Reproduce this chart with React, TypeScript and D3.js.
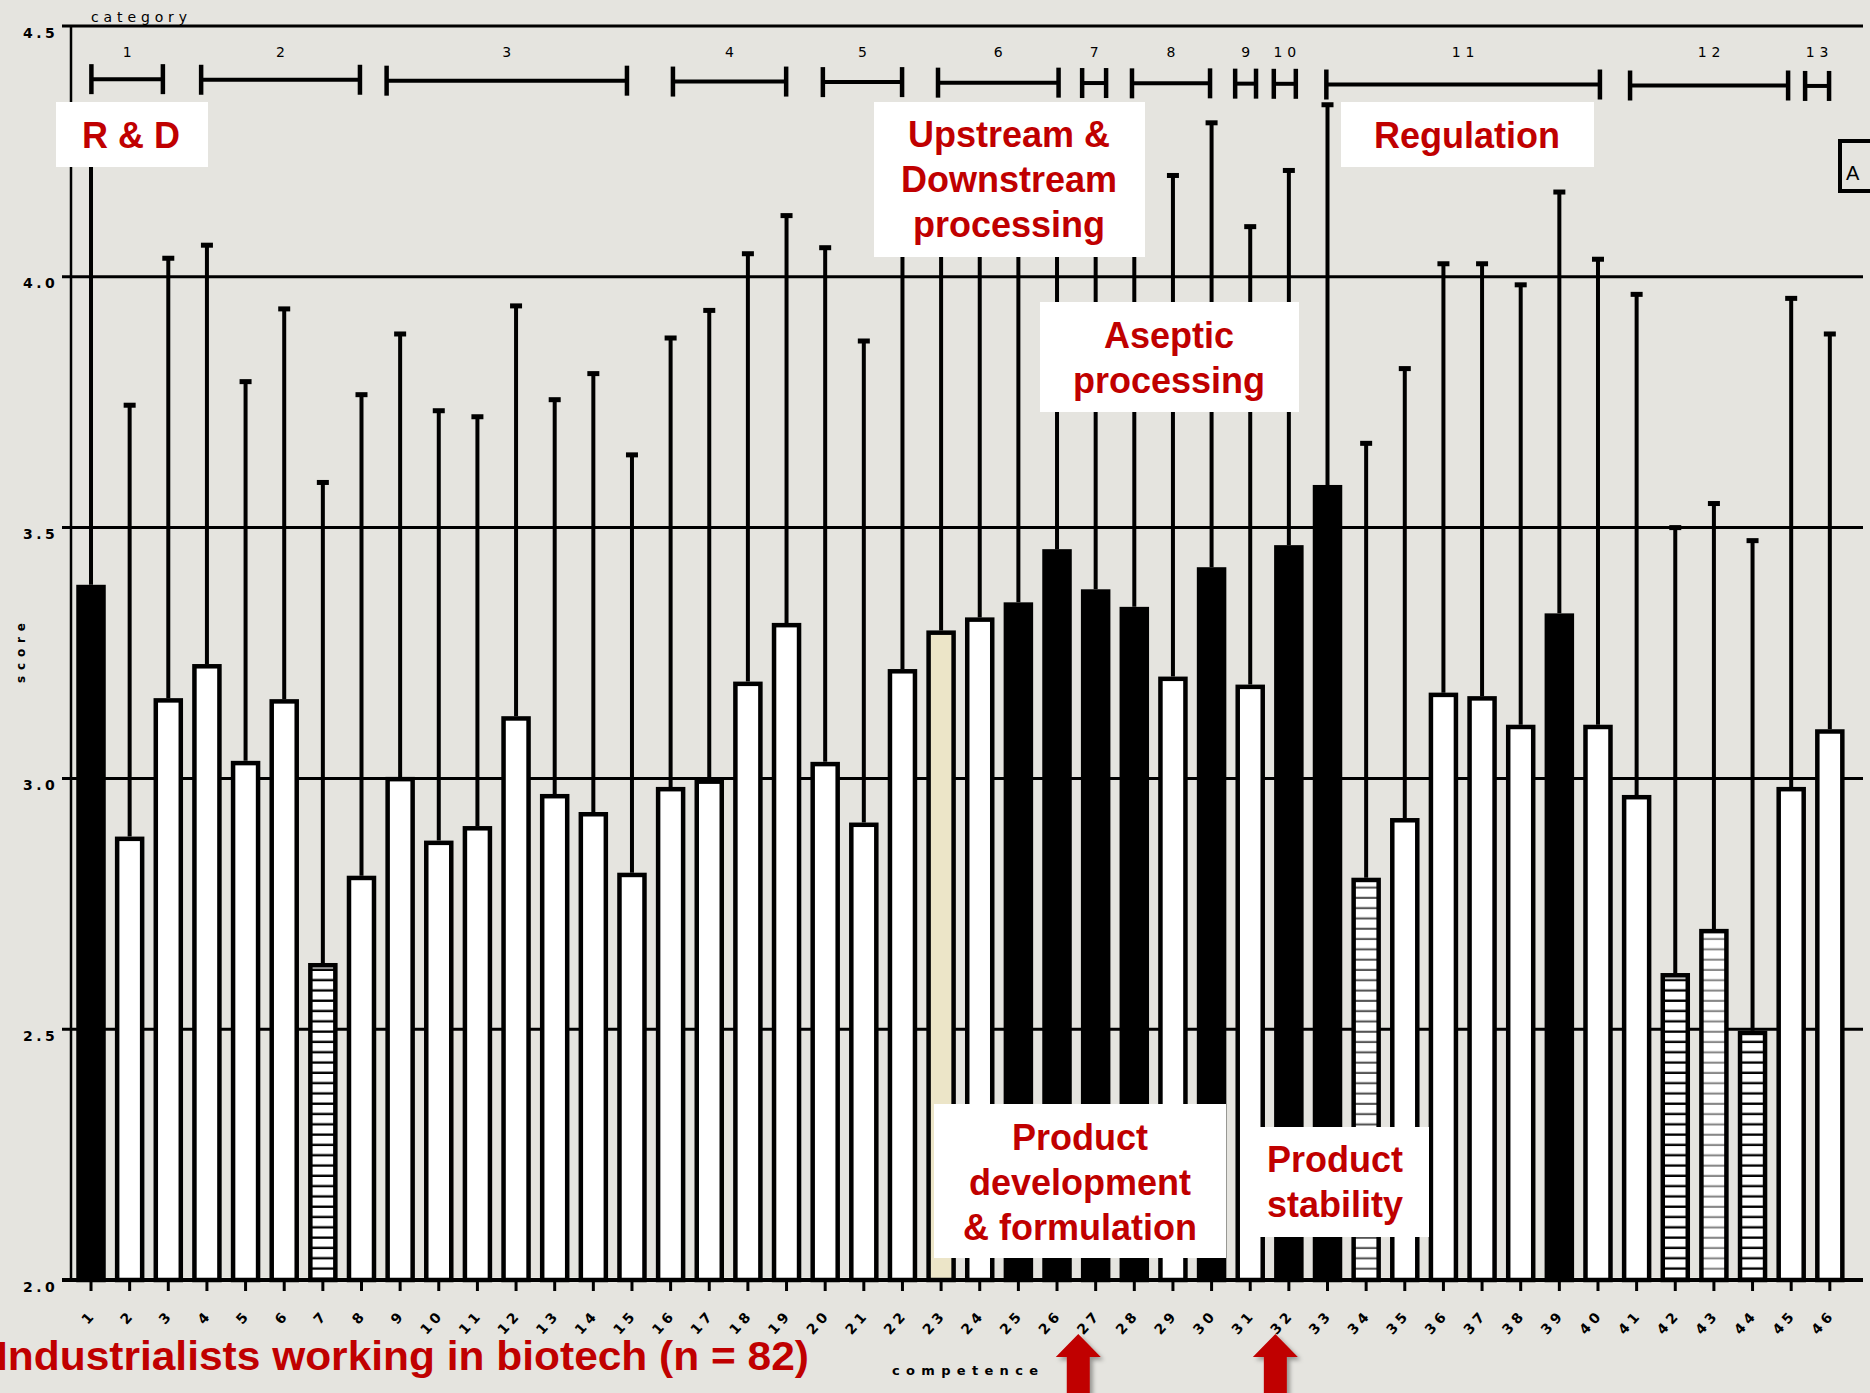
import * as d3 from 'd3';

// competence numbers along the x axis
const competence = [
  '1', '2', '3', '4', '5', '6', '7', '8', '9', '10', '11', '12', '13', '14', '15', '16',
  '17', '18', '19', '20', '21', '22', '23', '24', '25', '26', '27', '28', '29', '30', '31',
  '32', '33', '34', '35', '36', '37', '38', '39', '40', '41', '42', '43', '44', '45', '46',
];

// mean score per competence
const meanScore = [
  3.386, 2.884, 3.16, 3.228, 3.035, 3.158, 2.632, 2.806, 3.003, 2.876, 2.905, 3.124,
  2.969, 2.933, 2.812, 2.983, 2.998, 3.193, 3.31, 3.033, 2.912, 3.218, 3.295, 3.321,
  3.351, 3.457, 3.377, 3.342, 3.203, 3.421, 3.187, 3.465, 3.585, 2.802, 2.921, 3.171,
  3.164, 3.107, 3.329, 3.107, 2.967, 2.612, 2.7, 2.497, 2.983, 3.098,
];

// top of the error bar
const upperScore = [
  4.32, 3.744, 4.037, 4.063, 3.791, 3.936, 3.59, 3.765, 3.886, 3.733, 3.721, 3.942,
  3.755, 3.807, 3.645, 3.878, 3.933, 4.046, 4.122, 4.058, 3.872, 4.15, 4.25, 4.2,
  4.22, 4.3, 4.25, 4.2, 4.202, 4.307, 4.1, 4.212, 4.343, 3.668, 3.817, 4.026,
  4.026, 3.984, 4.169, 4.035, 3.965, 3.5, 3.548, 3.474, 3.957, 3.886,
];

// w = white, b = black, y = beige, h = hatched, d = dark-grey hatch, l = light-grey hatch
const barKind = [
  'b', 'w', 'w', 'w', 'w', 'w', 'h', 'w', 'w', 'w', 'w', 'w', 'w', 'w', 'w', 'w',
  'w', 'w', 'w', 'w', 'w', 'w', 'y', 'w', 'b', 'b', 'b', 'b', 'w', 'b', 'w', 'b',
  'b', 'd', 'w', 'w', 'w', 'w', 'b', 'w', 'w', 'h', 'l', 'h', 'w', 'w',
];

// category brackets (in competence units, as drawn)
const categoryLabels = ['1', '2', '3', '4', '5', '6', '7', '8', '9', '10', '11', '12', '13'];
const categoryFrom = [1.01, 3.85, 8.65, 16.06, 19.94, 22.92, 26.65, 27.94, 30.61, 31.61, 32.97, 40.83, 45.36];
const categoryTo = [2.86, 7.96, 14.87, 18.99, 21.99, 26.04, 27.27, 29.96, 31.15, 32.18, 40.05, 44.92, 45.98];

const yTicks = [2.0, 2.5, 3.0, 3.5, 4.0, 4.5];

const RED = '#c00000';
const BG = '#e5e4df';
const TICK_FONT = '"DejaVu Sans", Verdana, sans-serif';
const LABEL_FONT = '"Liberation Sans", Arial, Helvetica, sans-serif';

// white annotation boxes (layout only)
const notes = [
  { x: 56, y: 102, w: 152, h: 65, cx: 131, lines: ['R & D'], base: 148 },
  { x: 874, y: 102, w: 271, h: 155, cx: 1009, lines: ['Upstream &', 'Downstream', 'processing'], base: 147 },
  { x: 1040, y: 302, w: 259, h: 110, cx: 1169, lines: ['Aseptic', 'processing'], base: 348 },
  { x: 1341, y: 102, w: 253, h: 65, cx: 1467, lines: ['Regulation'], base: 148 },
  { x: 934, y: 1104, w: 292, h: 154, cx: 1080, lines: ['Product', 'development', '& formulation'], base: 1150 },
  { x: 1243, y: 1127, w: 186, h: 110, cx: 1335, lines: ['Product', 'stability'], base: 1172 },
];

const arrowAt = [26.55, 31.65];

export default function App() {
  const W = 1870;
  const H = 1393;
  const left = 71;
  const right = 1863;

  const x = d3.scaleBand()
    .domain(competence)
    .range([71.7, 71.7 + 46 * 38.64])
    .paddingInner(0.2365)
    .paddingOuter(0.118);
  const bw = x.bandwidth();
  const cx = (c: string) => (x(c) as number) + bw / 2;
  const xc = d3.scaleLinear().domain([1, 46]).range([cx('1'), cx('46')]);

  const y = d3.scaleLinear().domain([2, 4.5]).range([1280, 26]);

  const bracketY = (px: number) => 79 + ((px - 91) * 7) / 1740;

  const fillFor = (k: string) => {
    if (k === 'b') return '#000';
    if (k === 'y') return '#ece5c8';
    if (k === 'h') return 'url(#hatchBlack)';
    if (k === 'd') return 'url(#hatchDark)';
    if (k === 'l') return 'url(#hatchLight)';
    return '#fff';
  };

  const pattern = (id: string, color: string, sw: number) => (
    <pattern id={id} patternUnits="userSpaceOnUse" x={0} y={y(2)} width={40} height={10.3}>
      <rect width={40} height={10.3} fill="#fff" />
      <line x1={0} x2={40} y1={10.3 - sw / 2} y2={10.3 - sw / 2} stroke={color} strokeWidth={sw} />
    </pattern>
  );

  return (
    <svg
      width={W}
      height={H}
      style={{ position: 'absolute', left: 0, top: 0, display: 'block', background: BG }}
    >
      <defs>
        {pattern('hatchBlack', '#000', 2.4)}
        {pattern('hatchDark', '#555', 2)}
        {pattern('hatchLight', '#888', 2)}
        <filter id="shadow" x="-50%" y="-50%" width="200%" height="200%">
          <feDropShadow dx={3} dy={3} stdDeviation={2} floodColor="#000" floodOpacity={0.35} />
        </filter>
      </defs>
      <rect width={W} height={H} fill={BG} />

      {/* grid lines + y ticks */}
      {yTicks.map((t) => (
        <line key={'g' + t} x1={62} x2={right} y1={y(t)} y2={y(t)} stroke="#000" strokeWidth={t === 2 ? 4 : 3} />
      ))}
      <line x1={left} x2={left} y1={y(4.5)} y2={y(2)} stroke="#000" strokeWidth={2.5} />
      {yTicks.map((t) => (
        <text
          key={'yl' + t}
          x={23}
          y={y(t) + 11.5}
          fontFamily={TICK_FONT}
          fontWeight="bold"
          fontSize={14}
          style={{ letterSpacing: '3.5px' }}
        >
          {t.toFixed(1)}
        </text>
      ))}

      {/* whiskers */}
      {competence.map((c, i) => (
        <g key={'e' + c}>
          <line x1={cx(c)} x2={cx(c)} y1={y(meanScore[i])} y2={y(upperScore[i])} stroke="#000" strokeWidth={4} />
          <rect x={cx(c) - 6} y={y(upperScore[i]) - 2.5} width={12} height={5} fill="#000" />
        </g>
      ))}

      {/* bars */}
      {competence.map((c, i) => (
        <rect
          key={'b' + c}
          x={(x(c) as number) + 2.25}
          y={y(meanScore[i]) + 2.25}
          width={bw - 4.5}
          height={y(2) - y(meanScore[i]) - 2.25}
          fill={fillFor(barKind[i])}
          stroke="#000"
          strokeWidth={4.5}
        />
      ))}
      <line x1={62} x2={right} y1={y(2)} y2={y(2)} stroke="#000" strokeWidth={4} />

      {/* x ticks and labels */}
      {competence.map((c) => (
        <g key={'xt' + c}>
          <line x1={cx(c)} x2={cx(c)} y1={y(2)} y2={y(2) + 11} stroke="#000" strokeWidth={3} />
          <text
            transform={`translate(${cx(c) + 6},${1315}) rotate(-48)`}
            textAnchor="end"
            fontFamily={TICK_FONT}
            fontWeight="bold"
            fontSize={14}
            style={{ letterSpacing: '4px' }}
          >
            {c}
          </text>
        </g>
      ))}

      {/* category brackets */}
      <text x={91} y={22} fontFamily={TICK_FONT} fontSize={14} textLength={96} lengthAdjust="spacing">
        category
      </text>
      {categoryLabels.map((lab, i) => {
        const x0 = xc(categoryFrom[i]);
        const x1 = xc(categoryTo[i]);
        const yy = bracketY((x0 + x1) / 2);
        return (
          <g key={'cat' + lab}>
            <line x1={x0} x2={x1} y1={yy} y2={yy} stroke="#000" strokeWidth={4} />
            <line x1={x0} x2={x0} y1={yy - 15} y2={yy + 15} stroke="#000" strokeWidth={4.5} />
            <line x1={x1} x2={x1} y1={yy - 15} y2={yy + 15} stroke="#000" strokeWidth={4.5} />
            <text
              x={(x0 + x1) / 2 + (lab.length > 1 ? 2.5 : 0)}
              y={57}
              textAnchor="middle"
              fontFamily={TICK_FONT}
              fontSize={14}
              style={{ letterSpacing: lab.length > 1 ? '5px' : '0px' }}
            >
              {lab}
            </text>
          </g>
        );
      })}

      {/* annotation boxes */}
      {notes.map((n) => (
        <g key={n.lines.join()}>
          <rect x={n.x} y={n.y} width={n.w} height={n.h} fill="#fff" />
          {n.lines.map((ln, j) => (
            <text
              key={ln}
              x={n.cx}
              y={n.base + j * 45}
              textAnchor="middle"
              fill={RED}
              fontFamily={LABEL_FONT}
              fontWeight="bold"
              fontSize={36}
            >
              {ln}
            </text>
          ))}
        </g>
      ))}

      {/* panel letter */}
      <rect x={1840} y={141} width={60} height={50} fill="none" stroke="#000" strokeWidth={4} />
      <text x={1846} y={180} fontFamily={LABEL_FONT} fontSize={20}>A</text>

      {/* axis titles */}
      <text
        transform="translate(25,653) rotate(-90)"
        textAnchor="middle"
        fontFamily={TICK_FONT}
        fontWeight="bold"
        fontSize={12}
        textLength={60}
        lengthAdjust="spacing"
      >
        score
      </text>
      <text x={892} y={1375} fontFamily={TICK_FONT} fontWeight="bold" fontSize={13} textLength={146} lengthAdjust="spacing">
        competence
      </text>

      {/* arrows */}
      {arrowAt.map((a) => {
        const ax = xc(a);
        const d = `M${ax},1334 L${ax + 22.5},1357 L${ax + 11.5},1357 L${ax + 11.5},1400 L${ax - 11.5},1400 L${ax - 11.5},1357 L${ax - 22.5},1357 Z`;
        return <path key={'ar' + a} d={d} fill={RED} filter="url(#shadow)" />;
      })}

      <text
        x={-4}
        y={1370}
        fill={RED}
        fontFamily={LABEL_FONT}
        fontWeight="bold"
        fontSize={40}
        textLength={813}
        lengthAdjust="spacingAndGlyphs"
      >
        Industrialists working in biotech (n = 82)
      </text>
    </svg>
  );
}
